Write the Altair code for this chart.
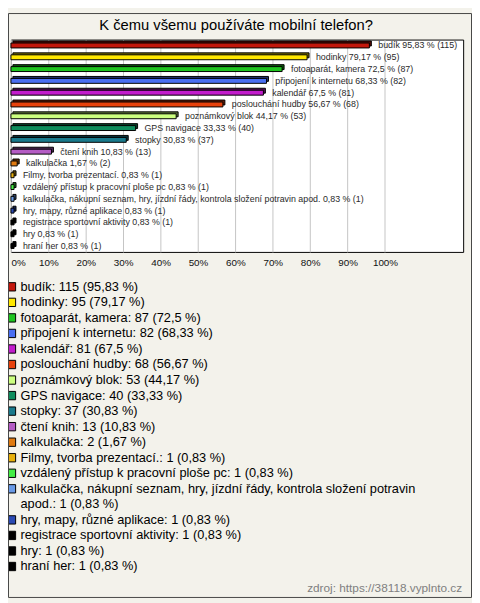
import altair as alt
import pandas as pd

TITLE = "K čemu všemu používáte mobilní telefon?"
SOURCE = "zdroj: https://38118.vyplnto.cz"

CATEGORIES = [
    "budík", "hodinky", "fotoaparát, kamera", "připojení k internetu", "kalendář",
    "poslouchání hudby", "poznámkový blok", "GPS navigace", "stopky", "čtení knih",
    "kalkulačka", "Filmy, tvorba prezentací.", "vzdálený přístup k pracovní ploše pc",
    "kalkulačka, nákupní seznam, hry, jízdní řády, kontrola složení potravin apod.",
    "hry, mapy, různé aplikace", "registrace sportovní aktivity", "hry", "hraní her",
]
COUNTS = [115, 95, 87, 82, 81, 68, 53, 40, 37, 13, 2, 1, 1, 1, 1, 1, 1, 1]
PERCENTS = [95.83, 79.17, 72.5, 68.33, 67.5, 56.67, 44.17, 33.33, 30.83, 10.83,
            1.67, 0.83, 0.83, 0.83, 0.83, 0.83, 0.83, 0.83]
PERCENT_TEXT = ["95,83", "79,17", "72,5", "68,33", "67,5", "56,67", "44,17", "33,33",
                "30,83", "10,83", "1,67", "0,83", "0,83", "0,83", "0,83", "0,83", "0,83", "0,83"]
TICKS = [0, 10, 20, 30, 40, 50, 60, 70, 80, 90, 100]

# style
COLORS = ["#c2170c", "#ffe800", "#1fc41f", "#4a6ff2", "#c21ccc", "#e8420c", "#ccff80",
          "#0e8c5c", "#1a7a8c", "#b45cc4", "#e07a10", "#e8b00c", "#44ee44", "#6a9ae6",
          "#2a4ab4", "#000000", "#000000", "#000000"]
WRAP_BEFORE = {13: "apod."}
FONT = "Liberation Sans"
BG = "#f3f2eb"


def darker(hexcol, f=0.45):
    r, g, b = (int(hexcol[i:i + 2], 16) for i in (1, 3, 5))
    return "#%02x%02x%02x" % (int(r * f), int(g * f), int(b * f))


DARK = [darker(c) for c in COLORS]

bars = pd.DataFrame({
    "cat": CATEGORIES,
    "pct": PERCENTS,
    "label": [f"{c} {p} % ({n})" for c, p, n in zip(CATEGORIES, PERCENT_TEXT, COUNTS)],
})

# legend lines
rows = []
line = 0
for i, (c, p, n) in enumerate(zip(CATEGORIES, PERCENT_TEXT, COUNTS)):
    full = f"{c}: {n} ({p} %)"
    if i in WRAP_BEFORE:
        k = full.index(WRAP_BEFORE[i])
        parts = [full[:k].rstrip(), full[k:]]
    else:
        parts = [full]
    for j, t in enumerate(parts):
        rows.append({"cat": c, "text": t, "line": line, "first": j == 0})
        line += 1
legend = pd.DataFrame(rows)
n_lines = line

W, H = 460, 216
XMAX = 120.9

xscale = alt.Scale(domain=[0, XMAX], nice=False, zero=True)
yband = alt.Scale(domain=CATEGORIES, paddingInner=0, paddingOuter=0)
cscale = alt.Scale(domain=CATEGORIES, range=COLORS)
dscale = alt.Scale(domain=CATEGORIES, range=DARK)

one = pd.DataFrame({"a": [0]})

frame = alt.Chart(one).mark_rect(fillOpacity=0, stroke="#444444", strokeWidth=1).encode(
    x=alt.value(-2.5), x2=alt.value(468.5), y=alt.value(-26.5), y2=alt.value(567.5)
)

axis = alt.Axis(values=TICKS, labelExpr="datum.value + '%'", grid=True, gridColor="#c4c4c4",
                domain=False, ticks=False, labelFontSize=10, labelFont=FONT, labelColor="#111",
                labelPadding=6, labelFlush=True, title=None)

depth = alt.Chart(bars).mark_bar(size=5, xOffset=2, x2Offset=2, yOffset=-2, y2Offset=-2,
                                 stroke="black", strokeWidth=1).encode(
    x=alt.X("pct:Q", scale=xscale, axis=axis),
    y=alt.Y("cat:N", scale=yband, axis=None, sort=CATEGORIES),
    fill=alt.Fill("cat:N", scale=dscale, legend=None),
)
front = alt.Chart(bars).mark_bar(size=5, stroke="black", strokeWidth=1).encode(
    x=alt.X("pct:Q", scale=xscale, axis=axis),
    y=alt.Y("cat:N", scale=yband, axis=None, sort=CATEGORIES),
    fill=alt.Fill("cat:N", scale=cscale, legend=None),
)
labels = alt.Chart(bars).mark_text(align="left", baseline="middle", dx=9, fontSize=9,
                                   font=FONT, color="#2a2a2a").encode(
    x=alt.X("pct:Q", scale=xscale, axis=axis),
    y=alt.Y("cat:N", scale=yband, axis=None, sort=CATEGORIES),
    text="label:N",
)

lscale = alt.Scale(domain=[0, n_lines - 1], range=[251.5, 536], nice=False, zero=False)

lsq = alt.Chart(legend).transform_filter("datum.first").mark_point(
    shape="square", size=72, filled=True, stroke="black", strokeWidth=1, opacity=1
).encode(
    x=alt.value(0.5),
    y=alt.Y("line:Q", scale=lscale, axis=None),
    fill=alt.Fill("cat:N", scale=cscale, legend=None),
)
ltext = alt.Chart(legend).mark_text(align="left", baseline="middle", fontSize=13,
                                    font=FONT, color="black").encode(
    x=alt.value(9.7),
    y=alt.Y("line:Q", scale=lscale, axis=None),
    text="text:N",
)

title = alt.Chart(one).mark_text(align="center", baseline="middle", fontSize=15, font=FONT,
                                 color="black", text=TITLE).encode(
    x=alt.value(229), y=alt.value(-14.5)
)
source = alt.Chart(one).mark_text(align="right", baseline="middle", fontSize=12, font=FONT,
                                  color="#808080", text=SOURCE).encode(
    x=alt.value(459), y=alt.value(558)
)

chart = alt.layer(
    depth, front, labels, lsq, ltext, title, source, frame
).resolve_scale(
    y="independent", fill="independent"
).properties(
    width=W, height=H,
    autosize=alt.AutoSizeParams(type="none"),
    padding={"left": 3, "top": 27, "right": 9, "bottom": 352},
    background=BG,
).configure_view(stroke="black", strokeWidth=1, fill="white")

chart.save("out.html", embed_options={"renderer": "svg", "actions": False})
